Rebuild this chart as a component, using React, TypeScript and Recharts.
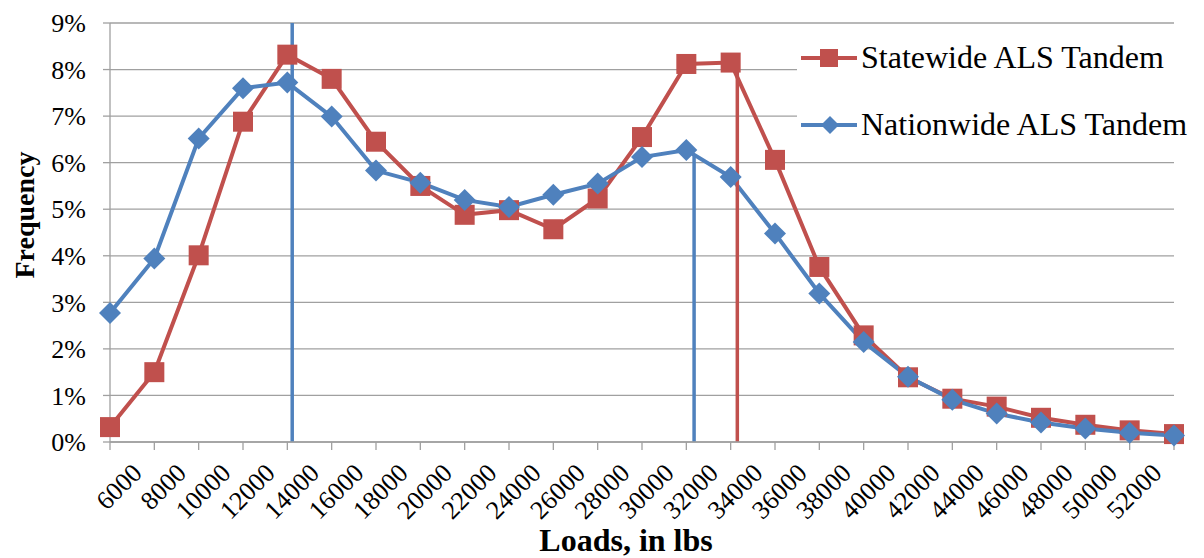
import { LineChart, Line, XAxis, YAxis, CartesianGrid, ReferenceLine, Legend } from 'recharts'

// load bins (lbs) and frequencies (%)
const loads = [6000, 8000, 10000, 12000, 14000, 16000, 18000, 20000, 22000, 24000, 26000, 28000, 30000, 32000, 34000, 36000, 38000, 40000, 42000, 44000, 46000, 48000, 50000, 52000, 54000]
const loadLabels = ['6000', '8000', '10000', '12000', '14000', '16000', '18000', '20000', '22000', '24000', '26000', '28000', '30000', '32000', '34000', '36000', '38000', '40000', '42000', '44000', '46000', '48000', '50000', '52000', '']
const statewide = [0.32, 1.5, 4.01, 6.88, 8.32, 7.8, 6.45, 5.5, 4.88, 4.98, 4.57, 5.23, 6.55, 8.12, 8.15, 6.06, 3.76, 2.29, 1.39, 0.93, 0.76, 0.52, 0.37, 0.25, 0.17]
const nationwide = [2.77, 3.94, 6.52, 7.6, 7.72, 6.99, 5.83, 5.57, 5.2, 5.05, 5.31, 5.55, 6.12, 6.27, 5.69, 4.48, 3.19, 2.15, 1.4, 0.91, 0.61, 0.42, 0.29, 0.2, 0.14]
const freqTicks = [0, 1, 2, 3, 4, 5, 6, 7, 8, 9]

// vertical marker lines (load, height in %)
const markers = [
    { load: 14220, top: 9, series: 'nationwide' },
    { load: 32350, top: 6.18, series: 'nationwide' },
    { load: 34300, top: 8.0, series: 'statewide' }
]

const seriesNames = { statewide: 'Statewide ALS Tandem', nationwide: 'Nationwide ALS Tandem' }

const RED = '#c0504d'
const BLUE = '#4f81bd'
const GRID = '#a0a0a0'
const FONT = "'Liberation Serif', 'Times New Roman', serif"

const data = loads.map((load, i) => ({
    load,
    statewide: statewide[i],
    nationwide: nationwide[i]
}))

const SquareDot = (props: any) => {
    const { cx, cy } = props
    if (cx == null || cy == null) return null
    return <rect x={cx - 10} y={cy - 10} width={20} height={20} fill={RED} />
}

const DiamondDot = (props: any) => {
    const { cx, cy } = props
    if (cx == null || cy == null) return null
    const r = 11
    return <polygon points={`${cx},${cy - r} ${cx + r},${cy} ${cx},${cy + r} ${cx - r},${cy}`} fill={BLUE} />
}

const LoadTick = (props: any) => {
    const { x, y, payload } = props
    const label = loadLabels[loads.indexOf(payload.value)] ?? ''
    return (
        <text
            transform={`translate(${x + 27},${y + 16}) rotate(-45)`}
            textAnchor="end"
            dy="0.35em"
            fontSize={26}
            fontFamily={FONT}
            fill="#000"
        >
            {label}
        </text>
    )
}

const LegendBox = () => (
    <svg width={407} height={120}>
        <rect x={0} y={0} width={407} height={120} fill="#fff" />
        <line x1={4} y1={28} x2={60} y2={28} stroke={RED} strokeWidth={4} />
        <rect x={23} y={19} width={18} height={18} fill={RED} />
        <text x={64} y={38} fontSize={32} fontFamily={FONT} fill="#000">{seriesNames.statewide}</text>
        <line x1={4} y1={95} x2={60} y2={95} stroke={BLUE} strokeWidth={4} />
        <polygon points="33,86 42,95 33,104 24,95" fill={BLUE} />
        <text x={64} y={105} fontSize={32} fontFamily={FONT} fill="#000">{seriesNames.nationwide}</text>
    </svg>
)

function App() {
    return (
        <div style={{ position: 'absolute', left: 0, top: 0, width: 1204, height: 558, background: '#fff' }}>
            <LineChart width={1204} height={558} data={data} margin={{ top: 22, right: 30, left: 0, bottom: 36 }}>
                <CartesianGrid vertical={false} stroke={GRID} strokeWidth={1.3} />
                <XAxis
                    dataKey="load"
                    type="number"
                    domain={[6000, 54000]}
                    ticks={loads}
                    interval={0}
                    height={80}
                    tickSize={8}
                    tickMargin={2}
                    tick={<LoadTick />}
                    axisLine={{ stroke: GRID, strokeWidth: 1.3 }}
                    tickLine={{ stroke: GRID, strokeWidth: 1.3 }}
                    label={{
                        content: () => (
                            <text x={626} y={551} textAnchor="middle" fontSize={32} fontWeight="bold" fontFamily={FONT} fill="#000">
                                Loads, in lbs
                            </text>
                        )
                    }}
                />
                <XAxis
                    xAxisId="top"
                    orientation="top"
                    dataKey="load"
                    type="number"
                    domain={[6000, 54000]}
                    ticks={loads}
                    interval={0}
                    height={1}
                    tickSize={4}
                    tick={false}
                    axisLine={false}
                    tickLine={{ stroke: GRID, strokeWidth: 1.3 }}
                />
                <YAxis
                    type="number"
                    domain={[0, 9]}
                    ticks={freqTicks}
                    interval={0}
                    width={110}
                    tickSize={7}
                    tickMargin={17}
                    tickFormatter={(v) => `${v}%`}
                    tick={{ fontSize: 26, fontFamily: FONT, fill: '#000' }}
                    axisLine={{ stroke: GRID, strokeWidth: 1.3 }}
                    tickLine={{ stroke: GRID, strokeWidth: 1.3 }}
                    label={{
                        content: () => (
                            <text x={34} y={215} transform="rotate(-90 34 215)" textAnchor="middle" fontSize={28} fontWeight="bold" fontFamily={FONT} fill="#000">
                                Frequency
                            </text>
                        )
                    }}
                />
                <Legend
                    layout="vertical"
                    align="center"
                    verticalAlign="middle"
                    content={() => <LegendBox />}
                    wrapperStyle={{ left: 797, top: 30, width: 407, height: 120 }}
                />
                <Line
                    dataKey="statewide"
                    name={seriesNames.statewide}
                    stroke={RED}
                    strokeWidth={4}
                    dot={<SquareDot />}
                    activeDot={false}
                    isAnimationActive={false}
                />
                <Line
                    dataKey="nationwide"
                    name={seriesNames.nationwide}
                    stroke={BLUE}
                    strokeWidth={4}
                    dot={<DiamondDot />}
                    activeDot={false}
                    isAnimationActive={false}
                />
                {markers.map((m, i) => (
                    <ReferenceLine
                        key={`marker-${i}`}
                        segment={[{ x: m.load, y: 0 }, { x: m.load, y: m.top }]}
                        stroke={m.series === 'statewide' ? RED : BLUE}
                        strokeWidth={3.5}
                    />
                ))}
            </LineChart>
        </div>
    )
}

export default App
